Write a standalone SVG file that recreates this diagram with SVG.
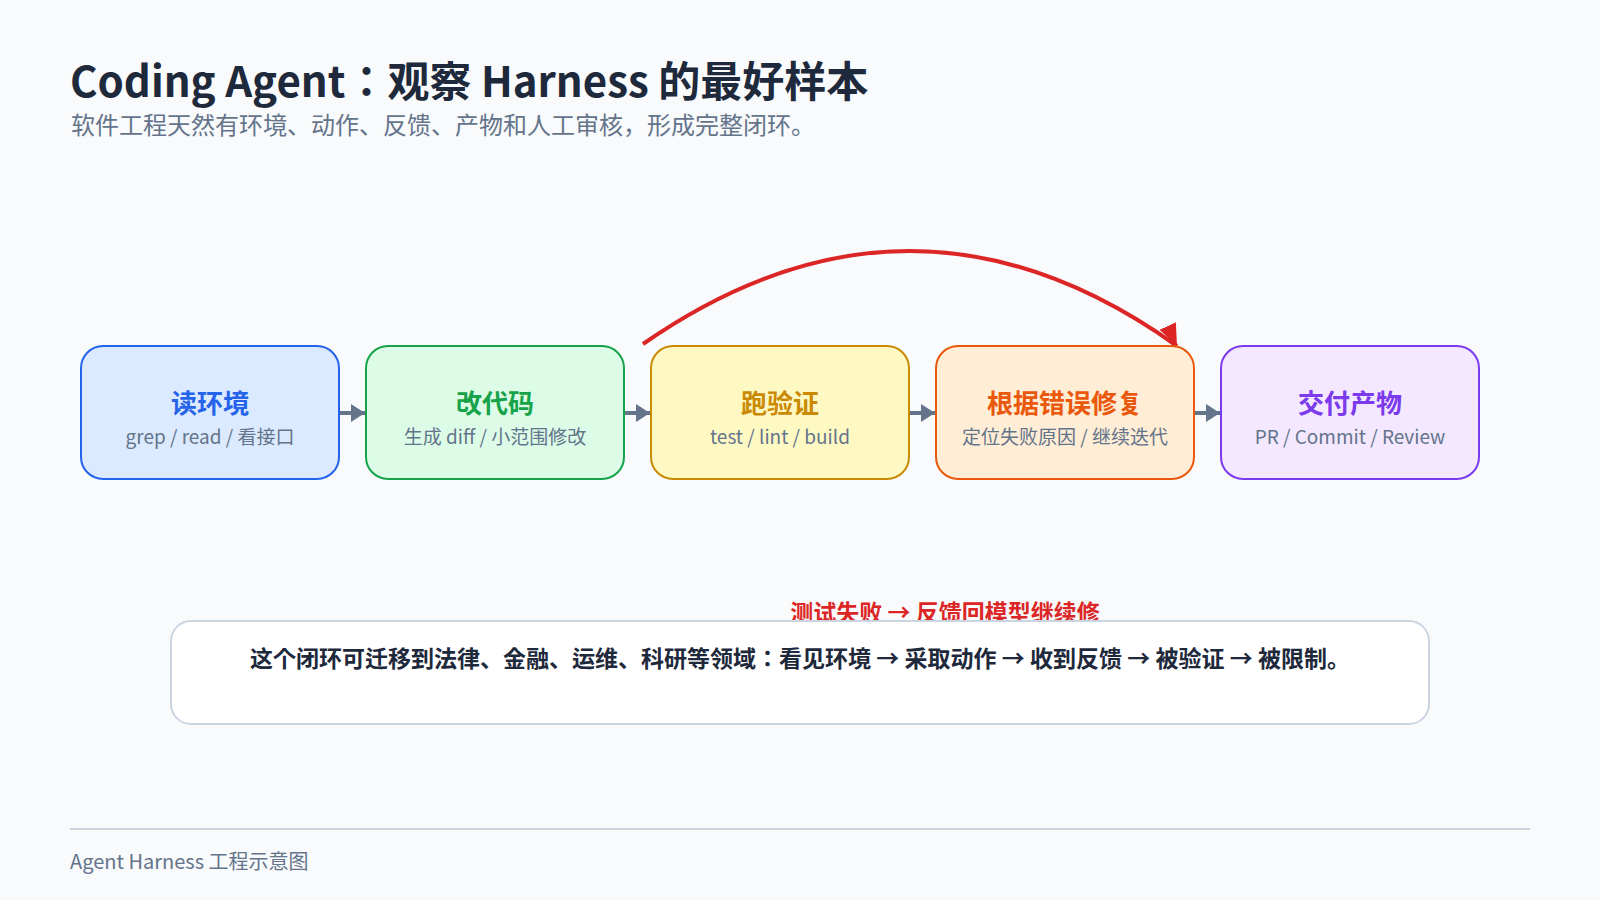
<svg xmlns="http://www.w3.org/2000/svg" width="1600" height="900" viewBox="0 0 1600 900">
  <defs>
    <style>
      text { font-family: "Noto Sans CJK JP", "Noto Sans CJK SC", "Noto Sans", sans-serif; }
      .title { font-size: 42px; font-weight: 700; fill: #1e293b; }
      .subtitle { font-size: 24px; fill: #64748b; }
      .node-title { font-size: 26px; font-weight: 700; text-anchor: middle; }
      .node-sub { font-size: 19px; fill: #64748b; text-anchor: middle; }
      .flow { stroke: #64748b; stroke-width: 4; fill: none; }
      .loop { stroke: #dc2626; stroke-width: 4; fill: none; }
      .loop-label { font-size: 23px; font-weight: 700; fill: #dc2626; text-anchor: middle; }
      .note { font-size: 23px; font-weight: 700; fill: #1e293b; text-anchor: middle; }
      .footer { font-size: 20px; fill: #64748b; }
    </style>
    <marker id="arrow-gray" markerUnits="userSpaceOnUse" markerWidth="14" markerHeight="18" refX="14" refY="9" orient="auto">
      <path d="M0,0 L14,9 L0,18 Z" fill="#64748b"/>
    </marker>
    <marker id="arrow-red" markerUnits="userSpaceOnUse" markerWidth="24" markerHeight="20" refX="22" refY="10" orient="65">
      <path d="M0,1 L22,10 L0,19 Z" fill="#dc2626"/>
    </marker>
  </defs>

  <rect x="0" y="0" width="1600" height="900" fill="#f8fafc"/>

  <g id="header">
    <text class="title" x="70" y="97">Coding Agent：观察 Harness 的最好样本</text>
    <text class="subtitle" x="71" y="134">软件工程天然有环境、动作、反馈、产物和人工审核，形成完整闭环。</text>
  </g>

  <g id="connectors">
    <line class="flow" x1="340" y1="413" x2="365" y2="413" marker-end="url(#arrow-gray)"/>
    <line class="flow" x1="625" y1="413" x2="650" y2="413" marker-end="url(#arrow-gray)"/>
    <line class="flow" x1="910" y1="413" x2="935" y2="413" marker-end="url(#arrow-gray)"/>
    <line class="flow" x1="1195" y1="413" x2="1220" y2="413" marker-end="url(#arrow-gray)"/>
    <path class="loop" d="M643,344 Q912,157 1177,346" marker-end="url(#arrow-red)"/>
  </g>

  <g id="node-read">
    <rect x="81" y="346" width="258" height="133" rx="22" fill="#dbeafe" stroke="#2563eb" stroke-width="2"/>
    <text class="node-title" x="210" y="413" fill="#2563eb">读环境</text>
    <text class="node-sub" x="210" y="444">grep / read / 看接口</text>
  </g>

  <g id="node-edit">
    <rect x="366" y="346" width="258" height="133" rx="22" fill="#dcfce7" stroke="#16a34a" stroke-width="2"/>
    <text class="node-title" x="495" y="413" fill="#16a34a">改代码</text>
    <text class="node-sub" x="495" y="444">生成 diff / 小范围修改</text>
  </g>

  <g id="node-verify">
    <rect x="651" y="346" width="258" height="133" rx="22" fill="#fef9c3" stroke="#ca8a04" stroke-width="2"/>
    <text class="node-title" x="780" y="413" fill="#ca8a04">跑验证</text>
    <text class="node-sub" x="780" y="444">test / lint / build</text>
  </g>

  <g id="node-fix">
    <rect x="936" y="346" width="258" height="133" rx="22" fill="#ffedd5" stroke="#ea580c" stroke-width="2"/>
    <text class="node-title" x="1065" y="413" fill="#ea580c">根据错误修复</text>
    <text class="node-sub" x="1065" y="444">定位失败原因 / 继续迭代</text>
  </g>

  <g id="node-deliver">
    <rect x="1221" y="346" width="258" height="133" rx="22" fill="#f3e8ff" stroke="#7c3aed" stroke-width="2"/>
    <text class="node-title" x="1350" y="413" fill="#7c3aed">交付产物</text>
    <text class="node-sub" x="1350" y="444">PR / Commit / Review</text>
  </g>

  <g id="loop-label">
    <text class="loop-label" x="945" y="621">测试失败 → 反馈回模型继续修</text>
  </g>

  <g id="note">
    <rect x="171" y="621" width="1258" height="103" rx="20" fill="#ffffff" stroke="#cbd5e1" stroke-width="2"/>
    <text class="note" x="800" y="667">这个闭环可迁移到法律、金融、运维、科研等领域：看见环境 → 采取动作 → 收到反馈 → 被验证 → 被限制。</text>
  </g>

  <g id="footer">
    <line x1="70" y1="829" x2="1530" y2="829" stroke="#cbd5e1" stroke-width="2"/>
    <text class="footer" x="70" y="869">Agent Harness 工程示意图</text>
  </g>
</svg>
